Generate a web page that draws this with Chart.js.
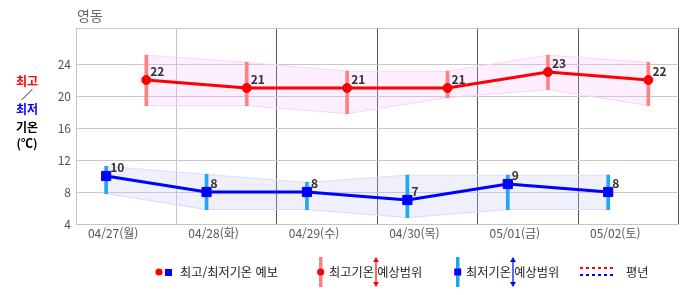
<!DOCTYPE html>
<html lang="ko">
<head>
<meta charset="UTF-8">
<title>영동 기온 예보</title>
<script src="https://cdn.jsdelivr.net/npm/chart.js"></script>
<style>
    * { margin: 0; padding: 0; box-sizing: border-box; }
    body {
        width: 686px;
        height: 295px;
        background: #fff;
        font-family: 'Noto Sans CJK KR', sans-serif;
        position: relative;
        overflow: hidden;
    }
    #chart { position: absolute; left: 0; top: 0; }
    .title { position: absolute; left: 77px; top: 5px; font-size: 14px; color: #666; }
    .ylab {
        position: absolute; left: 0; width: 54px; text-align: center;
        font-size: 12px; font-weight: bold; line-height: 14px; color: #000;
    }
    .legend-text { position: absolute; top: 264px; font-size: 12.2px; color: #222; line-height: 16px; white-space: nowrap; }
    svg.icons { position: absolute; left: 0; top: 0; }
</style>
</head>
<body>
<canvas id="chart" width="686" height="295"></canvas>

<div class="title">영동</div>
<div class="ylab" style="top:74px; color:#f00;">최고</div>
<div class="ylab" style="top:88px; font-weight:normal;">／</div>
<div class="ylab" style="top:102px; color:#00f;">최저</div>
<div class="ylab" style="top:120px;">기온</div>
<div class="ylab" style="top:136px;">(℃)</div>

<svg class="icons" width="686" height="295">
    <circle cx="159" cy="272" r="3.6" fill="#f00"/>
    <rect x="165" y="269" width="7" height="7" fill="#00f"/>
    <rect x="319" y="257" width="3.5" height="30" fill="#ff8080"/>
    <circle cx="320.7" cy="272" r="3.6" fill="#f00"/>
    <rect x="456" y="257" width="3.5" height="30" fill="#1ea7f4"/>
    <rect x="454.2" y="268.5" width="7" height="7" fill="#00f"/>
    <line x1="580" y1="268" x2="615" y2="268" stroke="#f00" stroke-width="2" stroke-dasharray="3,3"/>
    <line x1="580" y1="275" x2="615" y2="275" stroke="#00f" stroke-width="2" stroke-dasharray="3,3"/>
</svg>
<div class="legend-text" style="left:180px;">최고/최저기온 예보</div>
<div class="legend-text" style="left:329px;">최고기온 예상범위</div>
<div class="legend-text" style="left:466px;">최저기온 예상범위</div>
<div class="legend-text" style="left:626px;">평년</div>
<svg class="icons" width="686" height="295">
    <line x1="376" y1="259" x2="376" y2="285" stroke="#f00" stroke-width="1.2"/>
    <path d="M373 262 L376 257 L379 262 Z M373 282 L376 287 L379 282 Z" fill="#f00"/>
    <line x1="513" y1="259" x2="513" y2="285" stroke="#00f" stroke-width="1.2"/>
    <path d="M510 262 L513 257 L516 262 Z M510 282 L513 287 L516 282 Z" fill="#00f"/>
</svg>

<script>
    // day labels and forecast values
    const days = ['04/27(월)', '04/28(화)', '04/29(수)', '04/30(목)', '05/01(금)', '05/02(토)'];
    const maxTemp = [22, 21, 21, 21, 23, 22];
    const minTemp = [10, 8, 8, 7, 9, 8];
    // expected ranges
    const maxHigh = [25.1, 24.2, 23.1, 23.1, 25.1, 24.2];
    const maxLow = [18.8, 18.8, 17.8, 19.8, 20.8, 18.8];
    const minHigh = [11.2, 10.2, 9.2, 10.1, 10.1, 10.1];
    const minLow = [7.8, 5.8, 5.8, 4.8, 5.8, 5.8];
    // y axis
    const yGrid = [4, 6, 8, 10, 12, 14, 16, 18, 20, 22, 24, 26];
    const yMin = 4;
    const yMax = 28.5;

    // time of day (fraction of a day) for min / max / label
    const MIN_AT = 0.3;
    const MAX_AT = 0.7;
    const LABEL_AT = 0.37;

    const pts = (arr, at) => arr.map((v, i) => ({ x: i + at, y: v }));
    const bars = (lo, hi, at) => lo.map((v, i) => ({ x: i + at, y: [v, hi[i]] }));

    const valueLabels = {
        id: 'valueLabels',
        afterDatasetsDraw(chart) {
            const ctx = chart.ctx;
            ctx.save();
            ctx.font = 'bold 12px "Noto Sans CJK KR", sans-serif';
            ctx.fillStyle = '#333';
            ctx.textBaseline = 'middle';
            chart.data.datasets.forEach((ds, i) => {
                if (!ds.showValues) return;
                chart.getDatasetMeta(i).data.forEach((pt, j) => {
                    ctx.fillText(ds.data[j].y, pt.x + 4, pt.y - 9);
                });
            });
            ctx.restore();
        }
    };

    const pink = 'rgba(245, 180, 245, 0.22)';
    const lavender = 'rgba(200, 200, 245, 0.28)';

    new Chart(document.getElementById('chart'), {
        type: 'line',
        data: {
            datasets: [
                { data: pts(maxHigh, MAX_AT), borderColor: '#f7d6f7', borderWidth: 1, pointRadius: 0, fill: '+1', backgroundColor: pink, order: 10 },
                { data: pts(maxLow, MAX_AT), borderColor: '#f7d6f7', borderWidth: 1, pointRadius: 0, fill: false, order: 10 },
                { data: pts(minHigh, MIN_AT), borderColor: '#dcdcf6', borderWidth: 1, pointRadius: 0, fill: '+1', backgroundColor: lavender, order: 10 },
                { data: pts(minLow, MIN_AT), borderColor: '#dcdcf6', borderWidth: 1, pointRadius: 0, fill: false, order: 10 },
                { type: 'bar', data: bars(maxLow, maxHigh, MAX_AT), backgroundColor: '#ff8080', barThickness: 3, grouped: false, order: 5 },
                { type: 'bar', data: bars(minLow, minHigh, MIN_AT), backgroundColor: '#1ea7f4', barThickness: 3, grouped: false, order: 5 },
                {
                    data: pts(maxTemp, MAX_AT), borderColor: '#ff0000', borderWidth: 3,
                    pointStyle: 'circle', pointRadius: 4.5, pointBorderWidth: 1,
                    pointBackgroundColor: '#ff0000', pointBorderColor: '#ff0000',
                    fill: false, showValues: true, order: 1
                },
                {
                    data: pts(minTemp, MIN_AT), borderColor: '#0000ff', borderWidth: 3,
                    pointStyle: 'rect', pointRadius: 6.5, pointBorderWidth: 1,
                    pointBackgroundColor: '#0000ff', pointBorderColor: '#0000ff',
                    fill: false, showValues: true, order: 1
                }
            ]
        },
        options: {
            responsive: false,
            animation: false,
            layout: { padding: { top: 28, right: 4, left: 0, bottom: 0 } },
            plugins: { legend: { display: false }, tooltip: { enabled: false } },
            scales: {
                x: {
                    type: 'linear',
                    min: 0,
                    max: days.length,
                    offset: false,
                    afterBuildTicks(scale) {
                        const t = [];
                        for (let i = 0; i <= days.length; i++) t.push({ value: i });
                        days.forEach((d, i) => t.push({ value: i + LABEL_AT }));
                        scale.ticks = t.sort((a, b) => a.value - b.value);
                    },
                    afterFit(scale) { scale.height = 71; },
                    grid: {
                        offset: false,
                        drawTicks: false,
                        color: (c) => {
                            const v = c.tick ? c.tick.value : 0;
                            if (!Number.isInteger(v)) return 'rgba(0,0,0,0)';
                            return v <= 1 ? '#c4c4c4' : '#555';
                        }
                    },
                    border: { color: '#c4c4c4' },
                    ticks: {
                        autoSkip: false,
                        maxRotation: 0,
                        padding: 2,
                        color: '#555',
                        font: { size: 12, family: '"Noto Sans CJK KR", sans-serif' },
                        callback: (v) => Number.isInteger(v) ? '' : days[Math.floor(v)]
                    }
                },
                y: {
                    min: yMin,
                    max: yMax,
                    afterBuildTicks(scale) {
                        scale.ticks = yGrid.concat([yMax]).map(v => ({ value: v }));
                    },
                    afterFit(scale) { scale.width = 76; },
                    grid: { drawTicks: false, color: '#c8c8c8' },
                    border: { color: '#c4c4c4' },
                    ticks: {
                        padding: 5,
                        color: '#555',
                        font: { size: 12, family: '"Noto Sans CJK KR", sans-serif' },
                        callback: (v) => (v % 4 === 0 && v <= 24) ? v : ''
                    }
                }
            }
        },
        plugins: [valueLabels]
    });
</script>
</body>
</html>
